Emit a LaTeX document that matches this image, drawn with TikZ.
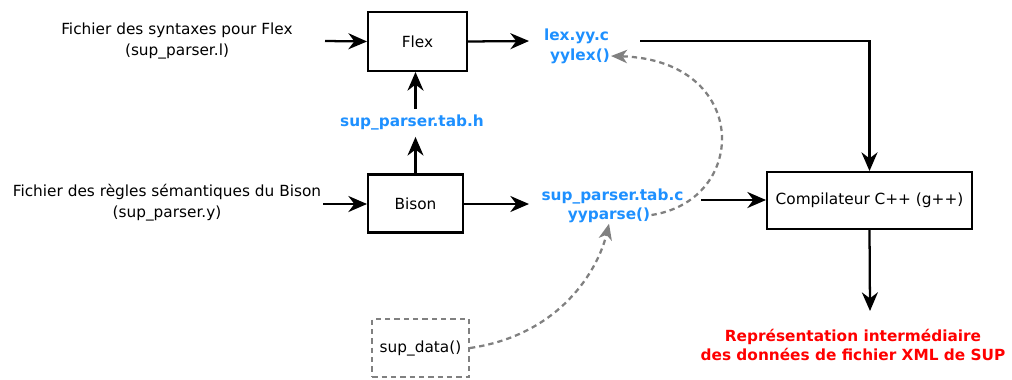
\documentclass[tikz,border=0pt]{standalone}
\usepackage{fontspec}
\setmainfont{DejaVu Sans}
\usetikzlibrary{arrows.meta}

\definecolor{genblue}{RGB}{30,144,255}
\definecolor{outred}{RGB}{255,0,0}
\definecolor{callgray}{RGB}{128,128,128}

\tikzset{
  txt/.style={font=\fontsize{11.5}{15.5}\selectfont, inner sep=0.75pt, align=center},
  gen/.style={txt, text=genblue, font=\bfseries\fontsize{11.5}{15.5}\selectfont},
  res/.style={txt, text=outred, font=\bfseries\fontsize{11.5}{14}\selectfont},
  tool/.style={txt, draw, line width=1.7pt},
  stub/.style={txt, draw=callgray, line width=1.7pt, dash pattern=on 4pt off 3pt},
  flow/.style={line width=1.7pt, -{Stealth[length=14pt,width=12pt,inset=4.5pt]}},
  call/.style={callgray, line width=1.7pt, dash pattern=on 4pt off 3pt, -{Stealth[length=12pt,width=10pt,inset=3.5pt]}}
}

\begin{document}
\begin{tikzpicture}[x=0.75pt,y=0.75pt,yscale=-1,xscale=1]
\path [use as bounding box] (0,0) rectangle (1012,379);

% Text Node
\node [txt] (syntax) at (177,41) {Fichier des syntaxes pour Flex\\(sup\_parser.l)};
% Text Node
\node [txt] (rules) at (167,203) {Fichier des règles sémantiques du Bison\\(sup\_parser.y)};
% Box
\node [tool, minimum width=74pt, minimum height=44pt] (flex) at (417.5,41.5) {Flex};
% Box
\node [tool, minimum width=71pt, minimum height=43.5pt] (bison) at (415.5,203.5) {Bison};
% Text Node
\node [gen] (tabh) at (412,122) {sup\_parser.tab.h};
% Text Node
\node [gen] (lexc) at (576.5,36) {lex.yy.c};
\node [gen] (yylex) at (580,56) {yylex()};
% Text Node
\node [gen] (tabc) at (612.5,196) {sup\_parser.tab.c};
\node [gen] (yyparse) at (609,215) {yyparse()};
% Box
\node [tool, minimum width=153.5pt, minimum height=42.5pt] (comp) at (869.5,200.5) {Compilateur C++ (g++)};
% Text Node
\node [res] (ir) at (853,345) {Représentation intermédiaire\\des données de fichier XML de SUP};
% Box
\node [stub, minimum width=72.5pt, minimum height=43.5pt] (data) at (420.5,348) {sup\_data()};

% Free ends
\coordinate (syntaxout) at (325,41);
\coordinate (rulesout) at (323,204);
\coordinate (lexin) at (529,41);
\coordinate (tabcin) at (529,204);
\coordinate (lexout) at (640,41);
\coordinate (tabcout) at (701,200);
\coordinate (irin) at (870,311);

% Connection
\draw [flow] (syntaxout) -- (flex.west);
\draw [flow] (rulesout) -- (rulesout -| bison.west);
\draw [flow] (flex.east) -- (lexin);
\draw [flow] (bison.east |- tabcin) -- (tabcin);
% Connection
\draw [flow, shorten >=4.5pt] (bison.north) -- (bison.north |- tabh.south);
\draw [flow, shorten <=3pt] (bison.north |- tabh.north) -- (bison.north |- flex.south);
% Connection
\draw [flow] (lexout) -| (comp.north);
\draw [flow] (tabcout) -- (tabcout -| comp.west);
\draw [flow] (comp.south) -- (irin);
% Calls
\draw [call] (data.east) .. controls (560,335) and (598,270) .. (yyparse.south);
\draw [call] (yyparse.east) .. controls (750,200) and (750,60) .. (yylex.east);

\end{tikzpicture}
\end{document}
